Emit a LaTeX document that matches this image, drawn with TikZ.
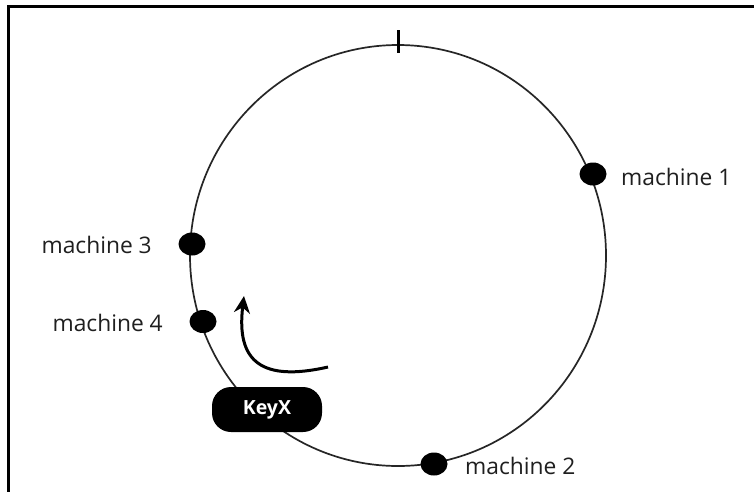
\documentclass[tikz,border=0pt]{standalone}
\usepackage{fontspec}
\setmainfont{Open Sans}
\usetikzlibrary{arrows.meta}
\usetikzlibrary{shapes.geometric}
\tikzset{
  dot/.style={ellipse, fill=black, inner sep=0pt, minimum width=27pt, minimum height=23pt},
  mlabel/.style={inner sep=0pt, font=\fontsize{22.8}{26}\selectfont, text=black!88},
  keybox/.style={fill=black, rounded corners=19pt, minimum width=110pt, minimum height=45pt, inner sep=0pt,
     text=white, font=\bfseries\fontsize{19.5}{22}\selectfont},
  ring/.style={line width=1.7pt, black!85},
  frame/.style={line width=3pt, black}
}
\begin{document}
\begin{tikzpicture}[x=1pt,y=-1pt]
\useasboundingbox (0,0) rectangle (754,491);
\clip (0,0) rectangle (754,491);
\fill[white] (0,0) rectangle (754,491);
% frame (right and bottom sides outside the picture)
\draw[frame] (770,6.5) -- (8.5,6.5) -- (8.5,510);
% ring
\draw[ring] (398,255.5) ellipse [x radius=208, y radius=210.5];
% tick at the top
\coordinate (t1) at (398.5,30);
\coordinate (t2) at (398.5,53);
\draw[line width=2.2pt] (t1) -- (t2);
% machines
\node[dot] (m1) at (593,174) {};
\node[dot] (m2) at (434,464) {};
\node[dot] (m3) at (192,244) {};
\node[dot] (m4) at (203,321.5) {};
\node[mlabel, anchor=west] (l1) at (621,177) {machine 1};
\node[mlabel, anchor=west] (l2) at (465,466) {machine 2};
\node[mlabel, anchor=east] (l3) at (152,245) {machine 3};
\node[mlabel, anchor=east] (l4) at (163,323) {machine 4};
% key
\node[keybox] (key) at (267,409.5) {KeyX};
% arrow
\coordinate (a0) at (328,367);
\coordinate (a1) at (244,296);
\draw[line width=3pt, -{Stealth[length=17pt,width=16pt]}] (a0) .. controls (262,382) and (236,362) .. (a1);
\end{tikzpicture}
\end{document}
